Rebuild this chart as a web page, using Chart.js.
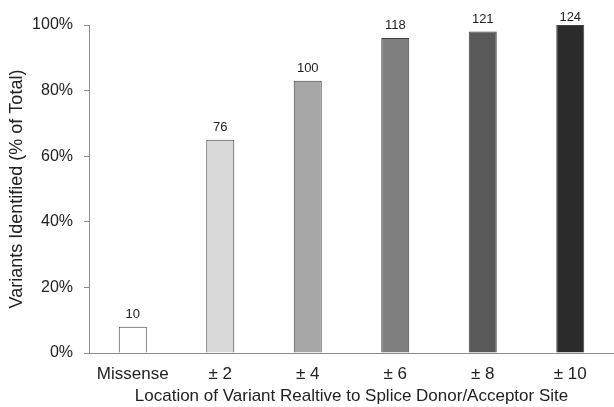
<!DOCTYPE html>
<html>
<head>
<meta charset="utf-8">
<script src="https://cdn.jsdelivr.net/npm/chart.js@4/dist/chart.umd.min.js"></script>
<style>
  html, body { margin: 0; padding: 0; background: #fff; }
  #wrap { width: 614px; height: 407px; position: relative; }
</style>
</head>
<body>
<div id="wrap"><canvas id="c"></canvas></div>
<script>
const categories = ['Missense', '\u00B1 2', '\u00B1 4', '\u00B1 6', '\u00B1 8', '\u00B1 10'];
const percentIdentified = [8, 65, 83, 96, 98, 100];
const variantCounts = [10, 76, 100, 118, 121, 124];
const yTicks = [0, 20, 40, 60, 80, 100];
const barColors = ['#ffffff', '#d9d9d9', '#a6a6a6', '#7f7f7f', '#595959', '#2b2b2b'];

const countLabels = {
  id: 'countLabels',
  afterDatasetsDraw(chart) {
    const ctx = chart.ctx;
    const meta = chart.getDatasetMeta(0);
    ctx.save();
    ctx.font = '13px "Liberation Sans", Arial, sans-serif';
    ctx.fillStyle = '#222';
    ctx.textAlign = 'center';
    ctx.textBaseline = 'alphabetic';
    meta.data.forEach((bar, i) => {
      const y = Math.max(bar.y - 9, 21);
      ctx.fillText(String(variantCounts[i]), bar.x, y);
    });
    ctx.restore();
  }
};

new Chart(document.getElementById('c'), {
  type: 'bar',
  data: {
    labels: categories,
    datasets: [{
      data: percentIdentified,
      backgroundColor: barColors,
      borderColor: '#404040',
      borderWidth: 1,
      categoryPercentage: 1,
      barPercentage: 0.32
    }]
  },
  options: {
    responsive: true,
    maintainAspectRatio: false,
    animation: false,
    devicePixelRatio: 1,
    layout: { padding: { top: 25, right: 0, bottom: 0, left: 0 } },
    plugins: { legend: { display: false }, tooltip: { enabled: false } },
    scales: {
      x: {
        grid: { display: false, drawTicks: false },
        border: { display: true, color: '#8c8c8c', width: 1 },
        ticks: { color: '#222', font: { family: '"Liberation Sans", Arial, sans-serif', size: 17 }, padding: 11 },
        title: {
          display: true,
          text: 'Location of Variant Realtive to Splice Donor/Acceptor Site',
          color: '#222',
          font: { family: '"Liberation Sans", Arial, sans-serif', size: 17 },
          padding: { top: 0, bottom: 0 }
        },
        afterFit(scale) { scale.height = 54; }
      },
      y: {
        min: 0,
        max: 100,
        afterBuildTicks(scale) { scale.ticks = yTicks.map(v => ({ value: v })); },
        grid: { display: true, drawOnChartArea: false, drawTicks: true, tickLength: 5, color: '#8c8c8c' },
        border: { display: true, color: '#8c8c8c', width: 1 },
        ticks: {
          color: '#222',
          font: { family: '"Liberation Sans", Arial, sans-serif', size: 16 },
          padding: 11,
          callback: v => v + '%'
        },
        title: {
          display: true,
          text: 'Variants Identified (% of Total)',
          color: '#222',
          font: { family: '"Liberation Sans", Arial, sans-serif', size: 18 },
          padding: { top: 6, bottom: 0 }
        },
        afterFit(scale) { scale.width = 89; }
      }
    }
  },
  plugins: [countLabels]
});
</script>
</body>
</html>
